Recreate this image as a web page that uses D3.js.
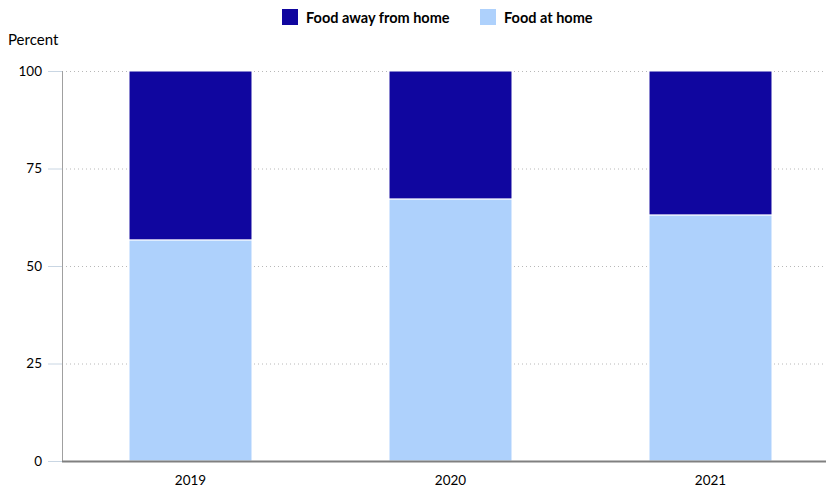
<!DOCTYPE html>
<html>
<head>
<meta charset="utf-8">
<script src="https://cdn.jsdelivr.net/npm/d3@7"></script>
<style>
  html, body { margin: 0; padding: 0; background: #fff; }
  svg { display: block; font-family: Lato, "Open Sans", sans-serif; }
</style>
</head>
<body>
<svg id="chart" width="828" height="491"></svg>
<script>
// Share of food spending, percent
const years = ["2019", "2020", "2021"];
const foodAtHome = [56.7, 67.2, 63.1];
const foodAway = [43.3, 32.8, 36.9];
const seriesNames = ["Food away from home", "Food at home"];
const seriesColors = ["#10069f", "#aed1fc"];
const yTicks = [0, 25, 50, 75, 100];

const svg = d3.select("#chart");
const plotLeft = 62, plotRight = 826, plotTop = 71, plotBottom = 461;

const x = d3.scaleBand().domain(years).range([60.5, 840.5]).paddingInner(0.527).paddingOuter(0.2635);
const y = d3.scaleLinear().domain([0, 100]).range([plotBottom, plotTop]);

// dotted gridlines
svg.append("g").selectAll("line").data(yTicks.filter(d => d > 0)).join("line")
  .attr("x1", plotLeft).attr("x2", plotRight)
  .attr("y1", d => y(d) + 0.5).attr("y2", d => y(d) + 0.5)
  .attr("stroke", "#b8b8b8").attr("stroke-width", 1).attr("stroke-dasharray", "1,3");

// stacked bars
const rows = years.map((yr, i) => ({ year: yr, home: foodAtHome[i], away: foodAway[i] }));
const stack = d3.stack().keys(["home", "away"]);
const layers = stack(rows);
const colorByKey = { home: seriesColors[1], away: seriesColors[0] };

svg.append("g").selectAll("g").data(layers).join("g")
  .attr("fill", d => colorByKey[d.key])
  .selectAll("rect").data(d => d).join("rect")
  .attr("x", d => x(d.data.year))
  .attr("width", x.bandwidth())
  .attr("y", d => y(d[1]))
  .attr("height", d => y(d[0]) - y(d[1]))
  .attr("stroke", "#fff").attr("stroke-width", 1);

// y axis
const yAxis = svg.append("g").attr("transform", `translate(${plotLeft},0)`)
  .call(d3.axisLeft(y).tickValues(yTicks).tickSize(14).tickPadding(6));
yAxis.select(".domain").attr("stroke", "#a0a0a0").attr("d", `M0.5,${plotTop}V${plotBottom}`);
yAxis.selectAll(".tick line").attr("stroke", "#c9d6e3");
yAxis.selectAll(".tick text").attr("font-size", 13.5).attr("fill", "#000")
  .attr("font-family", "Lato, 'Open Sans', sans-serif");

// x axis
const xAxis = svg.append("g").attr("transform", `translate(0,${plotBottom})`)
  .call(d3.axisBottom(x).tickSize(0).tickPadding(14));
xAxis.select(".domain").remove();
xAxis.selectAll(".tick text").attr("font-size", 13.5).attr("fill", "#000")
  .attr("font-family", "Lato, 'Open Sans', sans-serif");
svg.append("line").attr("x1", plotLeft).attr("x2", plotRight)
  .attr("y1", plotBottom + 0.5).attr("y2", plotBottom + 0.5)
  .attr("stroke", "#808080").attr("stroke-width", 2);

// axis title
svg.append("text").attr("x", 8).attr("y", 45).attr("font-size", 15).text("Percent");

// legend
const legendX = [282, 480];
const legend = svg.append("g").selectAll("g").data(seriesNames).join("g")
  .attr("transform", (d, i) => `translate(${legendX[i]},9)`);
legend.append("rect").attr("width", 16).attr("height", 16)
  .attr("fill", (d, i) => seriesColors[i]);
legend.append("text").attr("x", 24).attr("y", 14)
  .attr("font-size", 14.5).attr("font-weight", "bold").text(d => d);
</script>
</body>
</html>
